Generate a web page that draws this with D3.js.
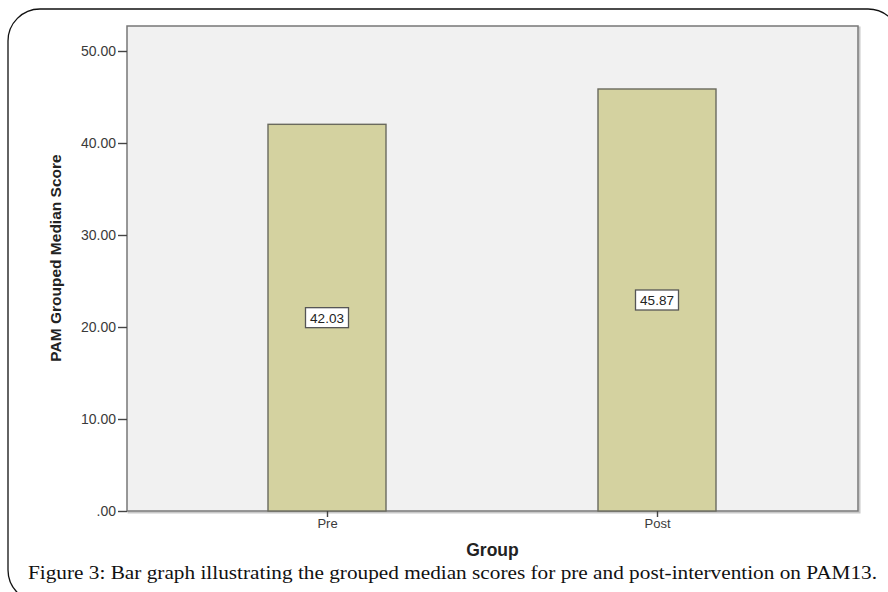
<!DOCTYPE html>
<html><head><meta charset="utf-8">
<script src="https://cdn.jsdelivr.net/npm/d3@7"></script>
<style>body{margin:0;background:#fff}svg{display:block}</style>
</head><body>
<script>
const categories = ["Pre", "Post"];
const values = [42.03, 45.87];
const labels = ["42.03", "45.87"];
const yTicks = [0, 10, 20, 30, 40, 50];
const yTickLabels = [".00", "10.00", "20.00", "30.00", "40.00", "50.00"];

const W = 888, H = 592;
const svg = d3.select("body").append("svg").attr("width", W).attr("height", H);

// frame
svg.append("rect").attr("x", 8).attr("y", 9).attr("width", 892).attr("height", 593)
  .attr("rx", 32).attr("ry", 32).attr("fill", "none").attr("stroke", "#111").attr("stroke-width", 1.3);

const L = 127, R = 858, T = 26, B = 511;
const y = d3.scaleLinear().domain([0, 50]).range([B, 51]);
const xc = d3.scalePoint().domain(categories).range([327, 657]);
const bw = 118;

// shadow of plot frame
svg.append("rect").attr("x", L + 1.5).attr("y", T + 1.5).attr("width", R - L).attr("height", B - T)
  .attr("fill", "none").attr("stroke", "#c8c8c8").attr("stroke-width", 2);
svg.append("rect").attr("x", L).attr("y", T).attr("width", R - L).attr("height", B - T)
  .attr("fill", "#f1f1f1").attr("stroke", "#777").attr("stroke-width", 1.5);

const g = svg.append("g");
g.selectAll("rect.bar").data(values).join("rect").attr("class", "bar")
  .attr("x", (d, i) => xc(categories[i]) - bw / 2)
  .attr("y", d => y(d))
  .attr("width", bw)
  .attr("height", d => B - y(d))
  .attr("fill", "#d4d2a0").attr("stroke", "#6a6a5e").attr("stroke-width", 1.4);

// value labels
const lab = g.selectAll("g.lab").data(values).join("g").attr("class", "lab")
  .attr("transform", (d, i) => `translate(${xc(categories[i])},${y(d / 2)})`);
lab.append("rect").attr("x", -21.5).attr("y", -10).attr("width", 43).attr("height", 20)
  .attr("fill", "#fff").attr("stroke", "#555").attr("stroke-width", 1.3);
lab.append("text").text((d, i) => labels[i]).attr("text-anchor", "middle").attr("dy", "0.36em")
  .attr("font-family", "Liberation Sans, Arial, sans-serif").attr("font-size", 13.5).attr("fill", "#222");

// y axis
const yAxis = d3.axisLeft(y).tickValues(yTicks).tickFormat((d, i) => yTickLabels[i]).tickSize(9).tickPadding(2);
const ya = svg.append("g").attr("transform", `translate(${L},0)`).call(yAxis);
ya.select(".domain").remove();
ya.selectAll("line").attr("stroke", "#444").attr("stroke-width", 1.4);
ya.selectAll("text").attr("font-family", "Liberation Sans, Arial, sans-serif").attr("font-size", 14).attr("fill", "#3a3a3a");

// x axis
const xAxis = d3.axisBottom(xc).tickSize(6).tickPadding(2);
const xa = svg.append("g").attr("transform", `translate(0,${B})`).call(xAxis);
xa.select(".domain").remove();
xa.selectAll("line").attr("stroke", "#444").attr("stroke-width", 1.4);
xa.selectAll("text").attr("font-family", "Liberation Sans, Arial, sans-serif").attr("font-size", 13).attr("fill", "#3a3a3a");

// axis titles
svg.append("text").text("Group").attr("x", 492.5).attr("y", 556).attr("text-anchor", "middle")
  .attr("font-family", "Liberation Sans, Arial, sans-serif").attr("font-weight", "bold").attr("font-size", 17.5).attr("fill", "#222");
svg.append("text").text("PAM Grouped Median Score")
  .attr("transform", `translate(61,258) rotate(-90)`).attr("text-anchor", "middle")
  .attr("font-family", "Liberation Sans, Arial, sans-serif").attr("font-weight", "bold").attr("font-size", 15.5).attr("fill", "#222");

// caption
svg.append("text").text("Figure 3: Bar graph illustrating the grouped median scores for pre and post-intervention on PAM13.")
  .attr("x", 28).attr("y", 579).attr("textLength", 849).attr("lengthAdjust", "spacingAndGlyphs")
  .attr("font-family", "Liberation Serif, Times New Roman, serif").attr("font-size", 18).attr("fill", "#111");
</script>
</body></html>
